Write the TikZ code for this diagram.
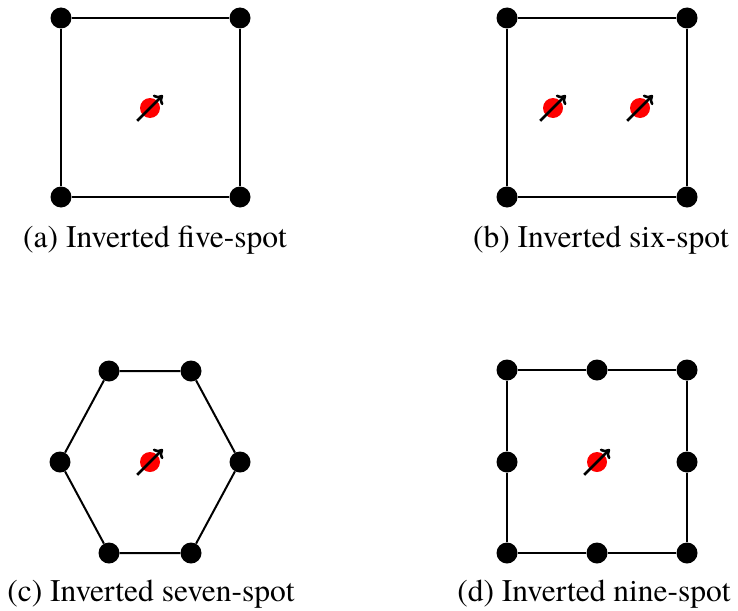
\documentclass[tikz,border=0pt]{standalone}
\usepackage{fontspec}
\setmainfont{texgyretermes-regular.otf}
\usetikzlibrary{arrows.meta}
\tikzset{
  well/.style={circle, fill=black, inner sep=0pt, minimum size=21pt},
  injector/.style={circle, fill=red, inner sep=0pt, minimum size=20pt},
  flow/.style={line width=2.6pt, -{To[length=8pt,width=14pt]}, shorten <=-8pt, shorten >=-8pt},
  pattern/.style={line width=2pt},
  caption/.style={anchor=base, font=\fontsize{31.5}{36}\selectfont}
}
\begin{document}
\begin{tikzpicture}[x=1pt, y=-1pt]
  \useasboundingbox (0,0) rectangle (738,610);
  % (a) inverted five-spot
  \node[well] (a1) at (61,18) {};
  \node[well] (a2) at (240,18) {};
  \node[well] (a3) at (240,197) {};
  \node[well] (a4) at (61,197) {};
  \draw[pattern] (a1) -- (a2) -- (a3) -- (a4) -- (a1);
  \node[injector] (ai) at (150,108) {};
  \draw[flow] (ai.south west) -- (ai.north east);
  \node[caption] (acap) at (155,247) {(a) Inverted five-spot};
  % (b) inverted six-spot
  \node[well] (b1) at (507,18) {};
  \node[well] (b2) at (687,18) {};
  \node[well] (b3) at (687,197) {};
  \node[well] (b4) at (507,197) {};
  \draw[pattern] (b1) -- (b2) -- (b3) -- (b4) -- (b1);
  \node[injector] (bi1) at (553,108) {};
  \node[injector] (bi2) at (640,108) {};
  \draw[flow] (bi1.south west) -- (bi1.north east);
  \draw[flow] (bi2.south west) -- (bi2.north east);
  \node[caption] (bcap) at (601,247) {(b) Inverted six-spot};
  % (c) inverted seven-spot
  \node[well] (c1) at (109,371) {};
  \node[well] (c2) at (191,371) {};
  \node[well] (c3) at (240,462) {};
  \node[well] (c4) at (191,553) {};
  \node[well] (c5) at (109,553) {};
  \node[well] (c6) at (60,462) {};
  \draw[pattern] (c1) -- (c2) -- (c3) -- (c4) -- (c5) -- (c6) -- (c1);
  \node[injector] (ci) at (150,462) {};
  \draw[flow] (ci.south west) -- (ci.north east);
  \node[caption] (ccap) at (151,601) {(c) Inverted seven-spot};
  % (d) inverted nine-spot
  \node[well] (d1) at (507,370) {};
  \node[well] (d2) at (597,370) {};
  \node[well] (d3) at (687,370) {};
  \node[well] (d4) at (687,462) {};
  \node[well] (d5) at (687,553) {};
  \node[well] (d6) at (597,553) {};
  \node[well] (d7) at (507,553) {};
  \node[well] (d8) at (507,462) {};
  \draw[pattern] (d1) -- (d2) -- (d3) -- (d4) -- (d5) -- (d6) -- (d7) -- (d8) -- (d1);
  \node[injector] (di) at (597,462) {};
  \draw[flow] (di.south west) -- (di.north east);
  \node[caption] (dcap) at (594,601) {(d) Inverted nine-spot};
\end{tikzpicture}
\end{document}
